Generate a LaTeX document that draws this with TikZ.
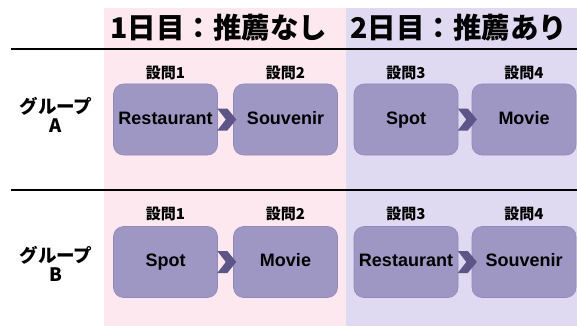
\documentclass[tikz,border=0pt]{standalone}
\usepackage{fontspec}
\setmainfont{Liberation Sans}
\newfontfamily\jp{Noto Sans CJK JP}
\usetikzlibrary{calc}
\definecolor{pinkbg}{HTML}{FDE8EF}
\definecolor{purplebg}{HTML}{DFDAF1}
\definecolor{boxfill}{HTML}{9E97C4}
\definecolor{boxline}{HTML}{9089BA}
\definecolor{chev}{HTML}{5D5488}
\begin{document}
\begin{tikzpicture}[x=1pt,y=-1pt,
 qbox/.style={rounded corners=10pt, fill=boxfill, draw=boxline, line width=0.6pt,
   minimum width=104pt, minimum height=71pt, inner sep=0pt,
   text height=13pt, text depth=3.5pt,
   font=\bfseries\fontsize{18}{20}\selectfont},
 qlabel/.style={font=\jp\bfseries\fontsize{15}{16}\selectfont, inner sep=0pt},
 daytitle/.style={font=\jp\bfseries\fontsize{28.5}{30}\selectfont, anchor=west, inner sep=0pt},
 glabel/.style={font=\jp\bfseries\fontsize{18.5}{18.5}\selectfont, align=center, inner sep=0pt},
 rule/.style={line width=2.4pt, black},
 chevfill/.style={fill=chev}]

\useasboundingbox (0,0) rectangle (577,326);
\fill[pinkbg] (104,8) rectangle (346,326);
\fill[purplebg] (346,8) rectangle (577,326);

% titles
\node[daytitle] (t1) at (110,28) {1日目：推薦なし};
\node[daytitle] (t2) at (350,28) {2日目：推薦あり};

% rules
\coordinate (r1s) at (11,49);
\coordinate (r1e) at (577,49);
\coordinate (r2s) at (11,190);
\coordinate (r2e) at (577,190);
\draw[rule] (r1s) -- (r1e);
\draw[rule] (r2s) -- (r2e);

% group labels
\node[glabel] (gA) at (56,115) {グループ\\A};
\node[glabel] (gB) at (56,264) {グループ\\B};

% question labels
\foreach \x/\n [count=\i] in {165.5/1,285.5/2,406/3,524/4}{
  \node[qlabel] (qa\i) at (\x,73) {設問\n};
  \node[qlabel] (qb\i) at (\x,214) {設問\n};
}

% boxes row A
\node[qbox] (a1) at (165.5,119.5) {Restaurant};
\node[qbox] (a2) at (285.5,119.5) {Souvenir};
\node[qbox] (a3) at (406,119.5) {Spot};
\node[qbox] (a4) at (524,119.5) {Movie};
% boxes row B
\node[qbox] (b1) at (165.5,262) {Spot};
\node[qbox] (b2) at (285.5,262) {Movie};
\node[qbox] (b3) at (406,262) {Restaurant};
\node[qbox] (b4) at (524,262) {Souvenir};

% chevrons
\foreach \s in {a1,a3,b1,b3}{
  \fill[chevfill] ($(\s.east)+(-0.5,-11)$) -- ++(10,0) -- ++(9,11) -- ++(-9,11) -- ++(-10,0) -- ++(8.5,-11) -- cycle;
}
\end{tikzpicture}
\end{document}
